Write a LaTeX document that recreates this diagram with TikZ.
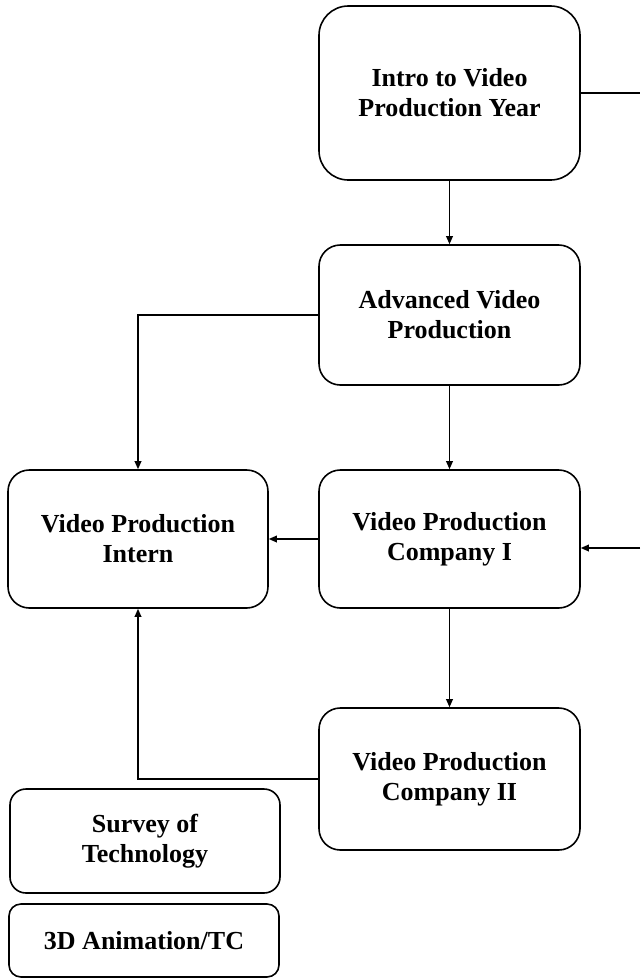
\documentclass[tikz,border=0pt]{standalone}
\usepackage{fontspec}
\setmainfont{Liberation Serif}
\usetikzlibrary{arrows.meta}
\begin{document}
\begin{tikzpicture}[x=0.75pt,y=-0.75pt,
  box/.style={draw,line width=1.2pt,rounded corners=16pt,align=center,inner sep=0pt,
    font=\bfseries\fontsize{19.5}{22.5}\selectfont},
  conn/.style={line width=1pt},
  arr/.style={conn,-{Triangle[length=6pt,width=5pt]}}]
\useasboundingbox (0,0) rectangle (640,979);
\node[box,rounded corners=22pt,minimum width=195.75pt,minimum height=130.5pt] (intro) at (449.5,93) {Intro to Video\\Production Year};
\node[box,minimum width=195.75pt,minimum height=105pt] (adv) at (449.5,315) {Advanced Video\\Production};
\node[box,minimum width=195pt,minimum height=103.5pt] (intern) at (138,539) {Video Production\\Intern};
\node[box,minimum width=195.75pt,minimum height=103.5pt] (comp1) at (449.5,539) {Video Production\\Company I};
\node[box,minimum width=195.75pt,minimum height=106.5pt] (comp2) at (449.5,779) {Video Production\\Company II};
\node[box,rounded corners=12pt,minimum width=202.5pt,minimum height=78pt] (survey) at (145,841) {Survey of\\Technology};
\node[box,rounded corners=9pt,minimum width=202.5pt,minimum height=54.75pt] (anim) at (144,940.5) {3D Animation/TC};
\coordinate (r1) at (640,93);
\coordinate (r2) at (640,548);
\draw[conn] (intro.east) -- (r1);
\draw[arr] (intro.south) -- (adv.north);
\draw[arr] (adv.west) -| (intern.north);
\draw[arr] (adv.south) -- (comp1.north);
\draw[arr] (comp1.west) -- (intern.east);
\draw[arr] (r2) -- (comp1.east |- r2);
\draw[arr] (comp1.south) -- (comp2.north);
\draw[arr] (comp2.west) -| (intern.south);
\end{tikzpicture}
\end{document}
